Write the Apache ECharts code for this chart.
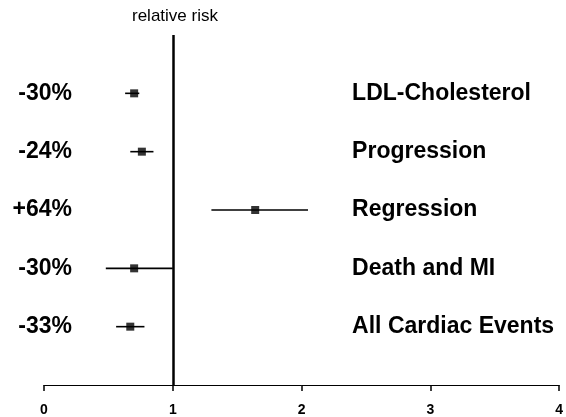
<!DOCTYPE html>
<html>
<head>
<meta charset="utf-8">
<script src="https://cdn.jsdelivr.net/npm/echarts@6/dist/echarts.min.js"></script>
<style>
html, body { margin: 0; padding: 0; background: #fff; }
#main { width: 566px; height: 417px; }
</style>
</head>
<body>
<div id="main"></div>
<script>
// rows from top to bottom
var categories = ['LDL-Cholesterol', 'Progression', 'Regression', 'Death and MI', 'All Cardiac Events'];
var changes = ['-30%', '-24%', '+64%', '-30%', '-33%'];
var relRisk = [0.70, 0.76, 1.64, 0.70, 0.67];
var ciLow = [0.63, 0.67, 1.30, 0.48, 0.56];
var ciHigh = [0.74, 0.85, 2.05, 1.00, 0.78];
var xTicks = [0, 1, 2, 3, 4];

var font = 'Liberation Sans, Arial, Helvetica, sans-serif';

var pointData = relRisk.map(function (v, i) { return [v, i + 1]; });
var barData = ciLow.map(function (lo, i) { return [lo, ciHigh[i], i + 1]; });

function rowLabel(list) {
    return function (v) {
        var i = Math.round(v) - 1;
        return i >= 0 && i < list.length ? list[i] : '';
    };
}

var chart = echarts.init(document.getElementById('main'));
chart.setOption({
    backgroundColor: '#fff',
    animation: false,
    title: {
        text: 'relative risk',
        left: 127,
        top: 3,
        textStyle: { fontFamily: font, fontSize: 17, fontWeight: 'normal', color: '#000' }
    },
    grid: { left: 44, right: 2, top: 35, bottom: 32 },
    xAxis: {
        type: 'value',
        min: xTicks[0],
        max: xTicks[xTicks.length - 1],
        interval: 1,
        splitLine: { show: false },
        axisLine: { show: true, onZero: false, lineStyle: { color: '#000', width: 1 } },
        axisTick: { show: true, length: 6, lineStyle: { color: '#000', width: 1.5 } },
        axisLabel: { color: '#000', fontFamily: font, fontSize: 14, fontWeight: 'bold', margin: 18 }
    },
    yAxis: [
        {
            type: 'value',
            position: 'left',
            offset: -28,
            min: 0,
            max: categories.length + 1,
            interval: 1,
            inverse: true,
            splitLine: { show: false },
            axisLine: { show: false },
            axisTick: { show: false },
            axisLabel: {
                margin: 0,
                color: '#000',
                fontFamily: font,
                fontSize: 23,
                fontWeight: 'bold',
                formatter: rowLabel(changes)
            }
        },
        {
            type: 'value',
            position: 'right',
            offset: -207,
            min: 0,
            max: categories.length + 1,
            interval: 1,
            inverse: true,
            splitLine: { show: false },
            axisLine: { show: false },
            axisTick: { show: false },
            axisLabel: {
                margin: 0,
                align: 'left',
                color: '#000',
                fontFamily: font,
                fontSize: 23,
                fontWeight: 'bold',
                formatter: rowLabel(categories)
            }
        }
    ],
    series: [
        {
            type: 'custom',
            yAxisIndex: 0,
            data: barData,
            renderItem: function (params, api) {
                var a = api.coord([api.value(0), api.value(2)]);
                var b = api.coord([api.value(1), api.value(2)]);
                return {
                    type: 'line',
                    shape: { x1: a[0], y1: a[1], x2: b[0], y2: b[1] },
                    style: { stroke: '#000', lineWidth: 1.6 }
                };
            },
            z: 2
        },
        {
            type: 'scatter',
            yAxisIndex: 0,
            symbol: 'rect',
            symbolSize: 8,
            itemStyle: { color: '#000' },
            data: pointData,
            z: 3,
            markLine: {
                silent: true,
                symbol: 'none',
                label: { show: false },
                lineStyle: { color: '#000', width: 2.5, type: 'solid' },
                data: [{ xAxis: 1 }]
            }
        }
    ]
});
</script>
</body>
</html>
